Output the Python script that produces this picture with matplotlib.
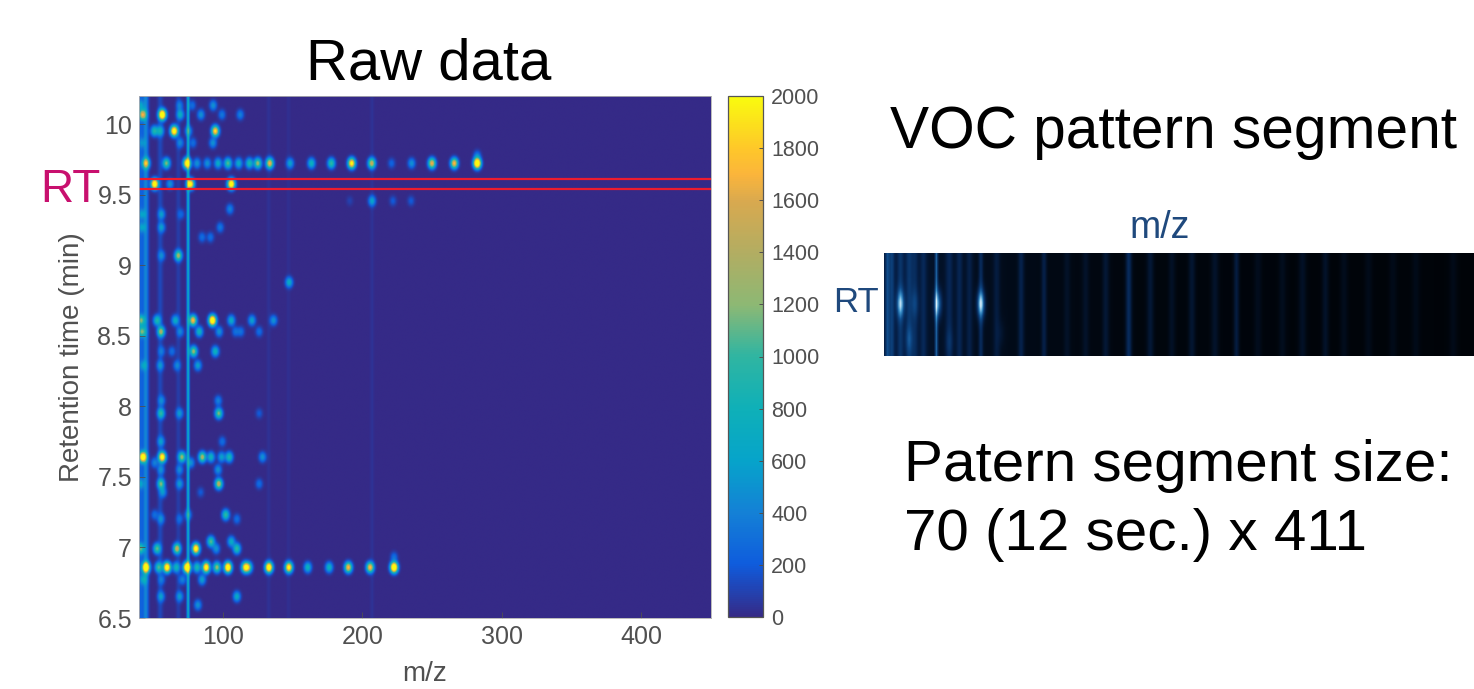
import numpy as np
import matplotlib
matplotlib.use("Agg")
import matplotlib.pyplot as plt
from matplotlib.colors import LinearSegmentedColormap

plt.rcParams['font.family'] = ['Liberation Sans', 'DejaVu Sans']

W, H = 1474, 689

# spots in the raw data, one row per retention time
row_rt = [10.136, 10.07, 9.954, 9.87, 9.78, 9.725, 9.578, 9.458, 9.40, 9.363, 9.27, 9.20, 9.07,
          8.88, 8.61, 8.53, 8.39, 8.29, 8.04, 7.95, 7.75, 7.64, 7.60, 7.55, 7.45, 7.39,
          7.23, 7.20, 7.04, 6.99, 6.93, 6.857, 6.77, 6.65, 6.59]
row_mz = [
    [41, 69, 78, 93],
    [42.4, 56.5, 69.4, 84.2, 99.3, 112.4],
    [50.8, 55, 65, 75.3, 94.5],
    [42, 69.4, 78.5, 92.8],
    [282.5],
    [44.8, 59.4, 74.2, 81.4, 88.8, 96.5, 103.6, 111.3, 119, 125, 133.6, 148.2, 163.5, 177.8,
     192.4, 206.8, 221, 235.4, 250, 266, 282.5],
    [51, 62, 76.7, 106],
    [191, 207, 222, 235],
    [105],
    [42, 56, 70],
    [42, 56, 98],
    [85, 91],
    [56, 68],
    [147.5],
    [41.4, 52.7, 65.8, 78.5, 92.5, 106, 120.8, 136.3],
    [42, 55.6, 69.4, 83, 97.3, 109, 112.9, 126],
    [56, 63.4, 78.9, 94.5],
    [43, 55, 67, 82],
    [56, 96.6],
    [55.6, 68.9, 97, 126],
    [55.6, 99.5],
    [42.6, 56.5, 70.6, 85.2, 91.4, 99, 104.5, 128.4],
    [51, 77],
    [55.6, 69, 96.5],
    [41, 55.6, 69, 97, 126],
    [57, 84],
    [51, 75, 102],
    [55.6, 69, 110],
    [91.4, 106],
    [41, 52.7, 67, 80.6, 95.2, 110],
    [222.8],
    [44.8, 53.8, 59.9, 66.5, 74.2, 81.4, 88, 95.7, 103.6, 116, 118.4, 133, 147.3, 160.9,
     176.2, 190, 205.6, 222.8],
    [43, 56, 71, 85],
    [55.6, 69, 110],
    [82],
]
row_int = [
    [400, 350, 300, 500],
    [1500, 2800, 700, 500, 350, 400],
    [900, 700, 2500, 500, 2000],
    [300, 400, 300, 500],
    [350],
    [1500, 1200, 2400, 500, 500, 700, 1100, 700, 900, 1300, 1700, 600, 800, 1000,
     2200, 1500, 250, 500, 1700, 1800, 3000],
    [2600, 500, 2300, 2600],
    [100, 600, 200, 200],
    [400],
    [400, 500, 250],
    [400, 500, 350],
    [300, 300],
    [400, 1300],
    [700],
    [1000, 900, 700, 1800, 2800, 700, 600, 500],
    [1000, 1300, 400, 800, 500, 300, 300, 300],
    [300, 300, 1300, 800],
    [400, 450, 400, 600],
    [400, 400],
    [900, 500, 1200, 200],
    [500, 300],
    [2400, 2300, 1300, 1400, 800, 600, 900, 500],
    [400, 500],
    [400, 400, 500],
    [400, 1100, 500, 1500, 300],
    [500, 200],
    [300, 400, 1000],
    [400, 250, 300],
    [1100, 700],
    [900, 1100, 1500, 2400, 500, 1000],
    [300],
    [2800, 1000, 2500, 800, 2800, 900, 2400, 1300, 2700, 1900, 1200, 2600, 2200, 800,
     800, 1800, 1800, 3000],
    [500, 300, 400, 600],
    [500, 500, 700],
    [500],
]

# vertical streaks that run through the whole retention time range
streak_mz = [41, 44.5, 55, 68, 75, 133, 147, 207]
streak_int = [230, 430, 120, 80, 680, 35, 25, 40]
streak_wid = [1.0, 1.4, 1.4, 1.2, 0.7, 1.2, 1.2, 1.0]

# pattern segment (70 x 411)
seg_col = [2, 5, 11, 17, 21, 27, 36, 45, 52, 59, 67, 78, 95, 111, 127, 140, 154, 170, 185, 200,
           214, 230, 245, 260, 277, 291, 307, 320, 337, 354, 370, 396]
seg_base = [.32, .26, .20, .22, .16, .15, .45, .16, .16, .13, .22, .12, .17, .17, .07, .08,
            .12, .26, .13, .08, .12, .10, .17, .06, .06, .09, .10, .06, .05, .05, .05, .05]
seg_wid = [1.0, 1.2, 1.6, 1.6, 1.6, 1.6, 0.7, 1.8, 1.6, 1.6, 1.0, 1.6, 1.4, 1.2, 1.6, 1.6,
           1.6, 1.4, 1.6, 1.6, 1.6, 1.8, 1.3, 1.8, 1.8, 1.8, 1.6, 1.8, 1.8, 1.8, 1.8, 1.8]
seg_spot_col = [11, 21, 37, 67, 17, 45, 81]
seg_spot_row = [34, 34, 34, 34, 58, 60, 54]
seg_spot_amp = [.58, .16, .52, .70, .18, .10, .06]

x_ticks = [100, 200, 300, 400]
y_ticks = [6.5, 7, 7.5, 8, 8.5, 9, 9.5, 10]
y_labels = ['6.5', '7', '7.5', '8', '8.5', '9', '9.5', '10']
cb_ticks = list(range(0, 2001, 200))
rt_window = [9.54, 9.613]

parula = LinearSegmentedColormap.from_list('parula', [
    (0.0, '#352a87'), (0.1, '#0f5cdd'), (0.2, '#1481d6'), (0.3, '#06a4ca'),
    (0.4, '#0fb0b8'), (0.5, '#2fb5a2'), (0.6, '#8db874'), (0.7, '#b2ad62'),
    (0.8, '#d9a94f'), (0.85, '#fbb53b'), (0.9, '#fec72a'), (1.0, '#f9fb0e')])
seg_cmap = LinearSegmentedColormap.from_list('seg', [
    '#000000', '#06234f', '#0f4c8c', '#3f97cf', '#e4f6ff'])


def axes_px(fig, left, top, right, bottom):
    return fig.add_axes([left / W, 1 - bottom / H, (right - left) / W, (bottom - top) / H])


# raw data image
mz = np.linspace(40, 450, 820)
rt = np.linspace(6.5, 10.2, 740)
mm, rr = np.meshgrid(mz, rt)
raw = np.zeros_like(mm)
for m0, a, w in zip(streak_mz, streak_int, streak_wid):
    raw += a * np.exp(-(mm - m0) ** 2 / (2 * w ** 2))
for r0, ms, amps in zip(row_rt, row_mz, row_int):
    for m0, a in zip(ms, amps):
        raw += a * np.exp(-(mm - m0) ** 2 / (2 * 1.7 ** 2) - (rr - r0) ** 2 / (2 * 0.024 ** 2))

fig = plt.figure(figsize=(W / 100, H / 100), dpi=100)

ax = axes_px(fig, 139, 96, 711, 618)
im = ax.imshow(raw, origin='lower', extent=[40, 450, 6.5, 10.2], aspect='auto',
               cmap=parula, vmin=0, vmax=2000, interpolation='bilinear')
for r in rt_window:
    ax.axhline(r, color='#ee1c2e', lw=1.6)
ax.set_xticks(x_ticks)
ax.set_yticks(y_ticks)
ax.set_yticklabels(y_labels)
ax.tick_params(direction='in', length=4, width=0.6, colors='#505050', labelsize=18, pad=5)
ax.set_xlabel('m/z', fontsize=20, color='#505050', labelpad=9)
ax.set_ylabel('Retention time (min)', fontsize=20, color='#505050', labelpad=9)
for s in ax.spines.values():
    s.set_color('#b0b0b0')
    s.set_linewidth(0.6)

cax = axes_px(fig, 728, 96, 763, 617)
cb = fig.colorbar(im, cax=cax, ticks=cb_ticks)
cb.ax.tick_params(direction='in', length=3, width=0.7, colors='#505050', labelsize=15.5, pad=6)
cb.outline.set_edgecolor('#555555')
cb.outline.set_linewidth(0.9)

# pattern segment image
sx, sy = np.meshgrid(np.arange(411), np.arange(70))
seg = 0.15 * np.exp(-sx / 80.0) + 0.03
for c, b, w in zip(seg_col, seg_base, seg_wid):
    seg += b * np.exp(-(sx - c) ** 2 / (2 * w ** 2))
for c, r, a in zip(seg_spot_col, seg_spot_row, seg_spot_amp):
    seg += a * np.exp(-(sx - c) ** 2 / (2 * 1.8 ** 2) - (sy - r) ** 2 / (2 * 6.5 ** 2))

ax2 = axes_px(fig, 884, 253, 1474, 356)
ax2.imshow(seg, cmap=seg_cmap, vmin=0, vmax=1, aspect='auto', interpolation='bilinear')
ax2.axis('off')

# text placed on the slide
fig.text(428.5 / W, 1 - 64 / H, 'Raw data', fontsize=41.8, color='black', ha='center', va='center')
fig.text(70 / W, 1 - 190 / H, 'RT', fontsize=33, color='#c8106e', ha='center', va='center')
fig.text(1173 / W, 1 - 133 / H, 'VOC pattern segment', fontsize=42.2, color='black', ha='center', va='center')
fig.text(1160 / W, 1 - 228 / H, 'm/z', fontsize=27, color='#1f497d', ha='center', va='center')
fig.text(856 / W, 1 - 303 / H, 'RT', fontsize=25, color='#1f497d', ha='center', va='center')
fig.text(904 / W, 1 - 466 / H, 'Patern segment size:', fontsize=42, color='black', ha='left', va='center')
fig.text(904 / W, 1 - 535 / H, '70 (12 sec.) x 411', fontsize=42, color='black', ha='left', va='center')

fig.savefig('out.png', dpi=100)
